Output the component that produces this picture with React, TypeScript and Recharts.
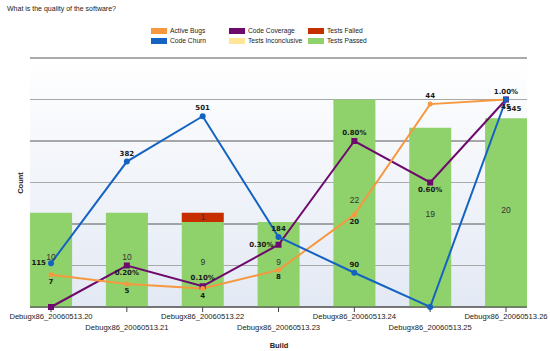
import React from 'react';
import { ComposedChart, Bar, Line, XAxis, YAxis, CartesianGrid, LabelList } from 'recharts';

const builds = [
  'Debugx86_20060513.20',
  'Debugx86_20060513.21',
  'Debugx86_20060513.22',
  'Debugx86_20060513.23',
  'Debugx86_20060513.24',
  'Debugx86_20060513.25',
  'Debugx86_20060513.26',
];
const activeBugs = [7, 5, 4, 8, 20, 44, 45];
const codeChurn = [115, 382, 501, 184, 90, 0, 545];
const codeCoverage = [0, 0.2, 0.1, 0.3, 0.8, 0.6, 1.0];
const testsFailed = [0, 0, 1, 0, 0, 0, 0];
const testsInconclusive = [0, 0, 0, 0, 0, 0, 0];
const testsPassed = [10, 10, 9, 9, 22, 19, 20];

// label placement per point (style, not data)
const bugsLabelPos = ['bottom', 'bottom', 'bottom', 'bottom', 'bottom', 'top', 'bottom'];
const churnLabelPos = ['left', 'top', 'top', 'top', 'top', 'none', 'bottomRight'];
const coverageLabelPos = ['none', 'bottom', 'top', 'left', 'top', 'bottom', 'top'];

const data = builds.map((b, i) => ({
  idx: i,
  build: b,
  activeBugs: activeBugs[i],
  codeChurn: codeChurn[i],
  codeCoverage: codeCoverage[i],
  testsFailed: testsFailed[i],
  testsInconclusive: testsInconclusive[i],
  testsPassed: testsPassed[i],
}));

const HEADROOM = 1.2;
const maxTests = Math.max(...data.map((d) => d.testsPassed + d.testsFailed + d.testsInconclusive));
const X_PAD = 0.277;

const W = 550;
const H = 351;
const M_TOP = 58;
const M_LEFT = 30;
const M_RIGHT = 23;
const X_AXIS_H = 34;
const M_BOTTOM = 10;
const PLOT_H = H - M_TOP - M_BOTTOM - X_AXIS_H;
const GRID_DIV = 6;
const gridDark = [0, 2, 4, 6].map((k) => M_TOP + (PLOT_H * k) / GRID_DIV);
const gridLight = [1, 3, 5].map((k) => M_TOP + (PLOT_H * k) / GRID_DIV);

const C_BUGS = '#F7983F';
const C_CHURN = '#1463C2';
const C_COV = '#6E0A6E';
const C_FAIL = '#C62E00';
const C_INC = '#FFE699';
const C_PASS = '#8FD16A';

const FONT = '"Liberation Sans", Arial, sans-serif';
const LFONT = '"DejaVu Sans", Verdana, sans-serif';

const makeLabel = (positions: string[], fmt: (v: number) => string) => (props: any) => {
  const { x, y, index, value } = props;
  const pos = positions[index];
  if (pos === 'none' || x == null || y == null) return null;
  let tx = x;
  let ty = y;
  let anchor: any = 'middle';
  if (pos === 'top') ty = y - 8;
  else if (pos === 'bottom') ty = y + 7;
  else if (pos === 'left') {
    tx = x - 5;
    anchor = 'end';
  } else if (pos === 'bottomRight') {
    tx = x + 8;
    ty = y + 9;
  }
  return (
    <text
      key={`l-${index}`}
      x={tx}
      y={ty}
      textAnchor={anchor}
      dominantBaseline="central"
      fontFamily={LFONT}
      fontWeight="bold"
      fontSize={7}
      fill="#1a1a1a"
    >
      {fmt(value)}
    </text>
  );
};

const SquareDot = (props: any) => {
  const { cx, cy, index } = props;
  if (cx == null || cy == null) return null;
  return <rect key={`sq-${index}`} x={cx - 3} y={cy - 3} width={6} height={6} fill={C_COV} />;
};

const BuildTick = (props: any) => {
  const { x, y, payload } = props;
  const i = payload.value;
  const row = i % 2;
  return (
    <text
      x={x}
      y={y + (row ? 13 : 2)}
      textAnchor="middle"
      dominantBaseline="central"
      fontFamily={FONT}
      fontSize={7.6}
      fill="#222"
    >
      {builds[i]}
    </text>
  );
};

const makeBarLabel = (dy: number) => (props: any) => {
  const { x, y, width, height, value, index } = props;
  if (!value) return null;
  return (
    <text
      key={`bl-${index}`}
      x={x + width / 2}
      y={y + height / 2 + dy}
      textAnchor="middle"
      dominantBaseline="central"
      fontFamily={FONT}
      fontSize={8.5}
      fill="#333"
    >
      {value}
    </text>
  );
};

const legendRows = [
  [
    { name: 'Active Bugs', color: C_BUGS },
    { name: 'Code Coverage', color: C_COV },
    { name: 'Tests Failed', color: C_FAIL },
  ],
  [
    { name: 'Code Churn', color: C_CHURN },
    { name: 'Tests Inconclusive', color: C_INC },
    { name: 'Tests Passed', color: C_PASS },
  ],
];
const legendColX = [151, 229, 308];

export default function App() {
  return (
    <div style={{ position: 'absolute', left: 0, top: 0, width: W, height: H, background: '#fff' }}>
      <div
        style={{
          position: 'absolute',
          left: 7,
          top: 4,
          fontFamily: FONT,
          fontSize: 7,
          color: '#222',
          lineHeight: '10px',
        }}
      >
        What is the quality of the software?
      </div>
      {legendRows.map((row, r) =>
        row.map((it, c) => (
          <div
            key={`${r}-${c}`}
            style={{
              position: 'absolute',
              left: legendColX[c],
              top: 28 + r * 10,
              height: 6,
              display: 'flex',
              alignItems: 'center',
              fontFamily: FONT,
              fontSize: 6.7,
              color: '#222',
              whiteSpace: 'nowrap',
            }}
          >
            <span style={{ display: 'inline-block', width: 16, height: 6, background: it.color, marginRight: 3 }} />
            <span style={{ lineHeight: '6px' }}>{it.name}</span>
          </div>
        ))
      )}
      <ComposedChart
        width={W}
        height={H}
        data={data}
        margin={{ top: M_TOP, right: M_RIGHT, bottom: M_BOTTOM, left: M_LEFT }}
        style={{ position: 'absolute', left: 0, top: 0 }}
      >
        <defs>
          <linearGradient id="plotBg" x1="0" y1="0" x2="0" y2="1">
            <stop offset="0%" stopColor="#ffffff" />
            <stop offset="100%" stopColor="#e3e9f4" />
          </linearGradient>
        </defs>
        <CartesianGrid
          vertical={false}
          horizontalPoints={gridLight}
          stroke="#a8a8a8"
          fill="url(#plotBg)"
          fillOpacity={1}
        />
        <CartesianGrid vertical={false} horizontalPoints={gridDark} stroke="#565656" />
        <XAxis
          dataKey="idx"
          type="number"
          domain={[-X_PAD, builds.length - 1 + X_PAD]}
          ticks={builds.map((_, i) => i)}
          allowDataOverflow
          tick={<BuildTick />}
          tickLine={{ stroke: '#444' }}
          tickSize={5}
          axisLine={{ stroke: '#444' }}
          interval={0}
          height={X_AXIS_H}
        />
        <YAxis
          yAxisId="tests"
          domain={[0, maxTests * HEADROOM]}
          tick={false}
          tickLine={false}
          axisLine={{ stroke: '#c9c9c9' }}
          width={0}
        />
        <YAxis yAxisId="bugs" domain={[0, Math.max(...activeBugs) * HEADROOM]} hide />
        <YAxis yAxisId="churn" domain={[0, Math.max(...codeChurn) * HEADROOM]} hide />
        <YAxis
          yAxisId="cov"
          orientation="right"
          domain={[0, Math.max(...codeCoverage) * HEADROOM]}
          tick={false}
          tickLine={false}
          axisLine={{ stroke: '#dcdcdc' }}
          width={0}
        />
        <Bar yAxisId="tests" dataKey="testsPassed" stackId="t" fill={C_PASS} barSize={42} isAnimationActive={false}>
          <LabelList dataKey="testsPassed" content={makeBarLabel(-3)} />
        </Bar>
        <Bar yAxisId="tests" dataKey="testsFailed" stackId="t" fill={C_FAIL} barSize={42} isAnimationActive={false}>
          <LabelList dataKey="testsFailed" content={makeBarLabel(0)} />
        </Bar>
        <Bar yAxisId="tests" dataKey="testsInconclusive" stackId="t" fill={C_INC} barSize={42} isAnimationActive={false}>
          <LabelList dataKey="testsInconclusive" content={makeBarLabel(0)} />
        </Bar>
        <Line
          yAxisId="cov"
          dataKey="codeCoverage"
          stroke={C_COV}
          strokeWidth={2}
          dot={SquareDot}
          activeDot={false}
          label={makeLabel(coverageLabelPos, (v) => `${v.toFixed(2)}%`)}
          isAnimationActive={false}
        />
        <Line
          yAxisId="bugs"
          dataKey="activeBugs"
          stroke={C_BUGS}
          strokeWidth={2}
          dot={{ r: 2.5, fill: C_BUGS, stroke: C_BUGS, strokeWidth: 0 }}
          activeDot={false}
          label={makeLabel(bugsLabelPos, (v) => `${v}`)}
          isAnimationActive={false}
        />
        <Line
          yAxisId="churn"
          dataKey="codeChurn"
          stroke={C_CHURN}
          strokeWidth={2}
          dot={{ r: 3, fill: C_CHURN, stroke: C_CHURN, strokeWidth: 0 }}
          activeDot={false}
          label={makeLabel(churnLabelPos, (v) => `${v}`)}
          isAnimationActive={false}
        />
      </ComposedChart>
      <div
        style={{
          position: 'absolute',
          left: 20,
          top: 182.5,
          transform: 'translate(-50%, -50%) rotate(-90deg)',
          fontFamily: FONT,
          fontWeight: 'bold',
          fontSize: 7.5,
          color: '#222',
          whiteSpace: 'nowrap',
        }}
      >
        Count
      </div>
      <div
        style={{
          position: 'absolute',
          left: 279,
          top: 345,
          transform: 'translate(-50%, -50%)',
          fontFamily: FONT,
          fontWeight: 'bold',
          fontSize: 7.5,
          color: '#222',
          whiteSpace: 'nowrap',
        }}
      >
        Build
      </div>
    </div>
  );
}
